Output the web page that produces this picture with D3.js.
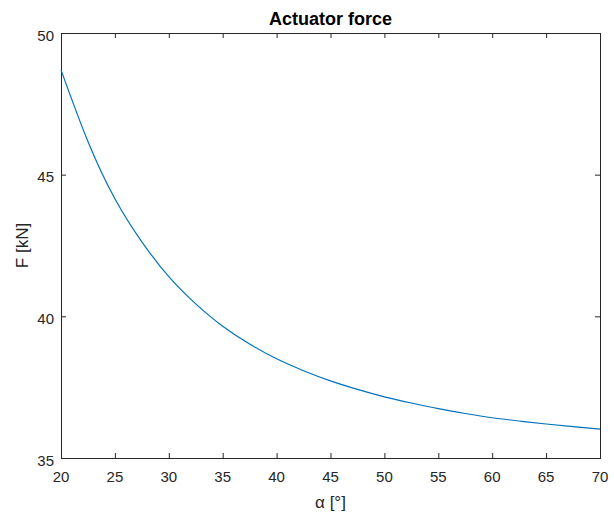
<!DOCTYPE html>
<html lang="en">
	<head>
		<meta charset="utf-8">
		<title>Actuator force</title>
		<script src="https://d3js.org/d3.v7.min.js"></script>
		<style type="text/css">
			body {
				margin: 0;
				background: #fff;
			}
			text {
				font-family: "Liberation Sans", Arial, sans-serif;
				fill: #262626;
			}
		</style>
	</head>
	<body>
		<script type="text/javascript">
			//Data
			var alpha = [20, 22.5, 25, 27.5, 30, 32.5, 35, 37.5, 40, 42.5, 45, 47.5, 50, 52.5, 55, 57.5, 60, 62.5, 65, 67.5, 70];
			var force = [48.7, 46.17, 44.15, 42.63, 41.4, 40.44, 39.65, 39.02, 38.5, 38.08, 37.72, 37.42, 37.16, 36.94, 36.74, 36.57, 36.42, 36.305, 36.2, 36.105, 36.02];
			var xTicks = [20, 25, 30, 35, 40, 45, 50, 55, 60, 65, 70];
			var yTicks = [35, 40, 45, 50];

			//Width and height, plot box edges
			var w = 614;
			var h = 512;
			var boxL = 61, boxR = 600, boxT = 33, boxB = 458;

			var x = d3.scaleLinear().domain([20, 70]).range([boxL, boxR]);
			var y = d3.scaleLinear().domain([35, 50]).range([boxB, boxT]);

			var svg = d3.select("body")
				.append("svg")
				.attr("width", w)
				.attr("height", h);

			//Ticks pointing inwards on all four sides
			var tickLen = 5;
			var axes = svg.append("g").attr("stroke", "#262626").attr("stroke-width", 1);

			axes.selectAll("line.xb").data(xTicks).enter().append("line")
				.attr("x1", function(d) { return x(d) + 0.5; })
				.attr("x2", function(d) { return x(d) + 0.5; })
				.attr("y1", boxB).attr("y2", boxB - tickLen);
			axes.selectAll("line.xt").data(xTicks).enter().append("line")
				.attr("x1", function(d) { return x(d) + 0.5; })
				.attr("x2", function(d) { return x(d) + 0.5; })
				.attr("y1", boxT).attr("y2", boxT + tickLen);
			axes.selectAll("line.yl").data(yTicks).enter().append("line")
				.attr("y1", function(d) { return y(d) + 0.5; })
				.attr("y2", function(d) { return y(d) + 0.5; })
				.attr("x1", boxL).attr("x2", boxL + tickLen);
			axes.selectAll("line.yr").data(yTicks).enter().append("line")
				.attr("y1", function(d) { return y(d) + 0.5; })
				.attr("y2", function(d) { return y(d) + 0.5; })
				.attr("x1", boxR).attr("x2", boxR - tickLen);

			//Box
			svg.append("rect")
				.attr("x", boxL + 0.5)
				.attr("y", boxT + 0.5)
				.attr("width", boxR - boxL)
				.attr("height", boxB - boxT)
				.attr("fill", "none")
				.attr("stroke", "#262626")
				.attr("stroke-width", 1);

			//Tick labels
			svg.selectAll("text.xl").data(xTicks).enter().append("text")
				.attr("x", function(d) { return x(d); })
				.attr("y", boxB + 24)
				.attr("text-anchor", "middle")
				.attr("font-size", "15px")
				.text(function(d) { return d; });
			svg.selectAll("text.yl").data(yTicks).enter().append("text")
				.attr("x", boxL - 7)
				.attr("y", function(d) { return y(d) + 7.5; })
				.attr("text-anchor", "end")
				.attr("font-size", "15px")
				.text(function(d) { return d; });

			//Curve
			var line = d3.line()
				.x(function(d, i) { return x(alpha[i]); })
				.y(function(d) { return y(d); })
				.curve(d3.curveNatural);

			svg.append("path")
				.datum(force)
				.attr("d", line)
				.attr("fill", "none")
				.attr("stroke", "#0072bd")
				.attr("stroke-width", 1.2);

			//Titles
			svg.append("text")
				.attr("x", (boxL + boxR) / 2)
				.attr("y", 25)
				.attr("text-anchor", "middle")
				.attr("font-size", "18px")
				.attr("font-weight", "bold")
				.style("fill", "#000")
				.text("Actuator force");

			svg.append("text")
				.attr("x", (boxL + boxR) / 2)
				.attr("y", 508)
				.attr("text-anchor", "middle")
				.attr("font-size", "17px")
				.text("α [°]");

			svg.append("text")
				.attr("transform", "translate(28," + (boxT + boxB) / 2 + ") rotate(-90)")
				.attr("text-anchor", "middle")
				.attr("font-size", "17px")
				.text("F [kN]");
		</script>
	</body>
</html>
